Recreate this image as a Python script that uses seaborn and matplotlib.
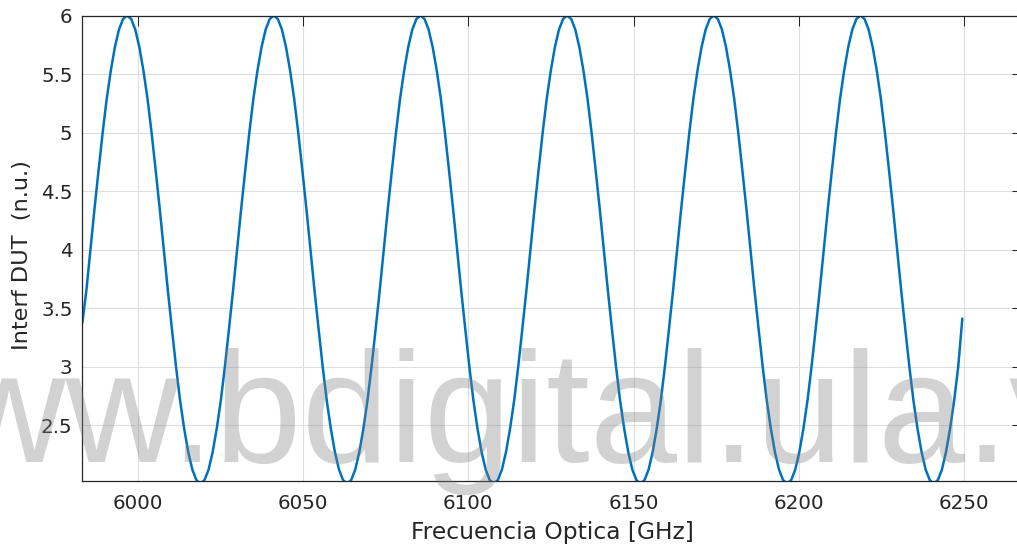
import numpy as np
import pandas as pd
import matplotlib
matplotlib.use("Agg")
import matplotlib.pyplot as plt
import seaborn as sns

# ---- data (uniform frequency sampling) ----
freq_start_ghz = 5983.13
freq_step_ghz = 1.2333

interf_dut = [
    3.37, 3.65, 4.00, 4.35, 4.68, 5.00, 5.29, 5.53, 5.73, 5.88, 5.97,
    6.00,
    5.97, 5.88, 5.73, 5.53, 5.29, 5.00, 4.68, 4.35, 4.00, 3.65, 3.32, 3.00,
    2.71, 2.47, 2.27, 2.12, 2.03, 2.00, 2.03, 2.12, 2.27, 2.47, 2.71, 3.00,
    3.32, 3.65, 4.00, 4.35, 4.68, 5.00, 5.29, 5.53, 5.73, 5.88, 5.97, 6.00,
    5.97, 5.88, 5.73, 5.53, 5.29, 5.00, 4.68, 4.35, 4.00, 3.65, 3.32, 3.00,
    2.71, 2.47, 2.27, 2.12, 2.03, 2.00, 2.03, 2.12, 2.27, 2.47, 2.71, 3.00,
    3.32, 3.65, 4.00, 4.35, 4.68, 5.00, 5.29, 5.53, 5.73, 5.88, 5.97, 6.00,
    5.97, 5.88, 5.73, 5.53, 5.29, 5.00, 4.68, 4.35, 4.00, 3.65, 3.32, 3.00,
    2.71, 2.47, 2.27, 2.12, 2.03, 2.00, 2.03, 2.12, 2.27, 2.47, 2.71, 3.00,
    3.32, 3.65, 4.00, 4.35, 4.68, 5.00, 5.29, 5.53, 5.73, 5.88, 5.97, 6.00,
    5.97, 5.88, 5.73, 5.53, 5.29, 5.00, 4.68, 4.35, 4.00, 3.65, 3.32, 3.00,
    2.71, 2.47, 2.27, 2.12, 2.03, 2.00, 2.03, 2.12, 2.27, 2.47, 2.71, 3.00,
    3.32, 3.65, 4.00, 4.35, 4.68, 5.00, 5.29, 5.53, 5.73, 5.88, 5.97, 6.00,
    5.97, 5.88, 5.73, 5.53, 5.29, 5.00, 4.68, 4.35, 4.00, 3.65, 3.32, 3.00,
    2.71, 2.47, 2.27, 2.12, 2.03, 2.00, 2.03, 2.12, 2.27, 2.47, 2.71, 3.00,
    3.32, 3.65, 4.00, 4.35, 4.68, 5.00, 5.29, 5.53, 5.73, 5.88, 5.97, 6.00,
    5.97, 5.88, 5.73, 5.53, 5.29, 5.00, 4.68, 4.35, 4.00, 3.65, 3.32, 3.00,
    2.71, 2.47, 2.27, 2.12, 2.03, 2.00, 2.03, 2.12, 2.27, 2.47, 2.71, 3.00,
    3.41,
]

x_ticks = [6000, 6050, 6100, 6150, 6200, 6250]
y_ticks = [2.5, 3, 3.5, 4, 4.5, 5, 5.5, 6]
y_tick_labels = ["2.5", "3", "3.5", "4", "4.5", "5", "5.5", "6"]
x_label = "Frecuencia Optica [GHz]"
y_label = "Interf DUT  (n.u.)"
watermark = "www.bdigital.ula.ve"

freq_ghz = freq_start_ghz + freq_step_ghz * np.arange(len(interf_dut))
df = pd.DataFrame({"freq": freq_ghz, "interf": interf_dut})

sns.set_theme(style="white")
plt.rcParams["font.family"] = ["DejaVu Sans"]

fig = plt.figure(figsize=(10.17, 5.5), dpi=100)
ax = fig.add_axes([82.3 / 1017, 69.5 / 550, (1021.7 - 82.3) / 1017, 465.0 / 550])

sns.lineplot(data=df, x="freq", y="interf", ax=ax, color="#0072BD",
             linewidth=1.8, sort=False, estimator=None)
for ln in ax.get_lines():
    ln.set_solid_joinstyle("round")
    ln.set_solid_capstyle("round")

ax.set_xlim(freq_ghz[0], 6267.5)
ax.set_ylim(2.026, 6.0)
ax.set_xticks(x_ticks)
ax.set_xticklabels([str(t) for t in x_ticks])
ax.set_yticks(y_ticks)
ax.set_yticklabels(y_tick_labels)

ax.grid(True, color="#dedede", linewidth=0.8)
ax.set_axisbelow(True)
for s in ax.spines.values():
    s.set_color("#262626")
    s.set_linewidth(0.9)
ax.tick_params(direction="in", top=True, right=True, length=7, width=0.75,
               colors="#262626", labelsize=14.3)
ax.tick_params(axis="x", pad=10)
ax.tick_params(axis="y", pad=7)

ax.set_xlabel(x_label, fontsize=16.8, color="#262626")
ax.set_ylabel(y_label, fontsize=16.2, color="#262626")
ax.xaxis.set_label_coords(0.5, -0.087)
ax.yaxis.set_label_coords(-0.054, 0.485)

fig.text(-0.158, 0.1606, watermark, fontsize=113, color="#7f7f7f", alpha=0.345,
         family="Liberation Sans", ha="left", va="baseline", zorder=10)

fig.savefig("out.png", dpi=100)
